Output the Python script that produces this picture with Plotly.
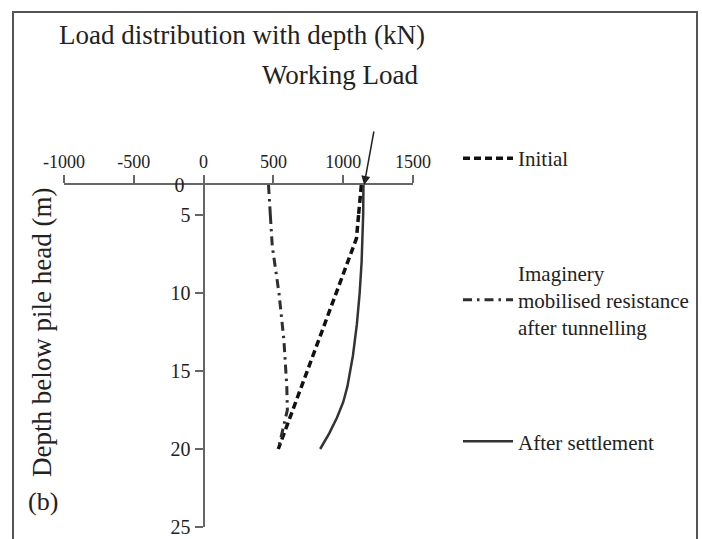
import plotly.graph_objects as go

# ---------------- data ----------------
x_ticks = [-1000, -500, 0, 500, 1000, 1500]
depth_ticks_top = [0]
depth_ticks_bottom = [5, 10, 15, 20, 25]

depth_initial = [0, 3, 5, 6.5, 20]
load_initial = [1130, 1120, 1110, 1095, 535]

depth_imag = [0, 5, 7, 10, 13, 16, 17.5, 20]
load_imag = [465, 478, 492, 540, 575, 596, 600, 535]

depth_after = [0, 5, 8, 10, 12, 14, 16, 17, 18, 19, 20]
load_after = [1145, 1143, 1132, 1118, 1098, 1070, 1030, 1000, 955, 900, 835]

series_names = ["Initial", "Imaginery<br>mobilised resistance<br>after tunnelling", "After settlement"]

W, H = 702, 539
FONT = "Liberation Serif"


def px(x):
    return x / W


def py(y):
    return 1 - y / H


def split(depths, loads, brk=5):
    top = [(d, l) for d, l in zip(depths, loads) if d <= brk]
    bot = [(d, l) for d, l in zip(depths, loads) if d >= brk]
    return top, bot


styles = [
    dict(color="#111111", width=3.5, dash="7px,4px"),
    dict(color="#2e2e2e", width=3, dash="9px,5px,2.5px,5px"),
    dict(color="#333333", width=2.5, dash="solid"),
]
datasets = [(depth_initial, load_initial), (depth_imag, load_imag), (depth_after, load_after)]

fig = go.Figure()
for i, ((d, l), st, name) in enumerate(zip(datasets, styles, series_names)):
    top, bot = split(d, l)
    fig.add_trace(go.Scatter(
        x=[p[1] for p in bot], y=[p[0] for p in bot], xaxis="x", yaxis="y",
        mode="lines", line=st, name=name, legendgroup=f"g{i}", showlegend=True,
    ))
    fig.add_trace(go.Scatter(
        x=[p[1] for p in top], y=[p[0] for p in top], xaxis="x", yaxis="y2",
        mode="lines", line=st, name=name, legendgroup=f"g{i}", showlegend=False,
    ))

axis_color = "#666666"
x0_px, x1_px = 64, 413
yaxis_pos = px(x0_px + (x1_px - x0_px) * (0 - (-1000)) / 2500)

fig.update_layout(
    width=W, height=H,
    margin=dict(l=0, r=0, t=0, b=0, autoexpand=False),
    paper_bgcolor="white", plot_bgcolor="rgba(0,0,0,0)",
    font=dict(family=FONT, color="#222222"),
    xaxis=dict(
        domain=[px(x0_px), px(x1_px)], range=[-1000, 1500], anchor="y2", side="top",
        tickvals=x_ticks, ticktext=[str(v) for v in x_ticks],
        showline=True, linecolor=axis_color, linewidth=2,
        ticks="outside", ticklen=8, tickwidth=2, tickcolor=axis_color,
        showgrid=False, zeroline=False, tickfont=dict(size=18, family=FONT, color="#222"),
    ),
    yaxis=dict(
        domain=[py(527), py(215)], range=[25, 5], anchor="free", position=yaxis_pos,
        tickvals=depth_ticks_bottom, ticktext=[str(v) for v in depth_ticks_bottom],
        showline=True, linecolor=axis_color, linewidth=2,
        ticks="outside", ticklen=8, tickwidth=2, tickcolor=axis_color,
        showgrid=False, zeroline=False, tickfont=dict(size=20, family=FONT, color="#222"),
    ),
    yaxis2=dict(
        domain=[py(215), py(185)], range=[5, 0], anchor="free", position=yaxis_pos,
        tickvals=depth_ticks_top, ticktext=[str(v) for v in depth_ticks_top],
        showline=True, linecolor=axis_color, linewidth=2,
        ticks="", showgrid=False, zeroline=False,
        tickfont=dict(size=20, family=FONT, color="#222"), ticklabelstandoff=14,
    ),
    legend=dict(
        x=px(458), y=py(138), xanchor="left", yanchor="top",
        font=dict(size=21, family=FONT, color="#222"),
        tracegroupgap=84, itemwidth=50, bgcolor="rgba(0,0,0,0)",
    ),
    showlegend=True,
)

fig.add_annotation(text="Load distribution with depth (kN)", x=px(57), y=py(35),
                   xref="paper", yref="paper", xanchor="left", yanchor="middle",
                   showarrow=False, font=dict(size=27, family=FONT, color="#222"))
fig.add_annotation(text="Working Load", x=px(421), y=py(75),
                   xref="paper", yref="paper", xanchor="right", yanchor="middle",
                   showarrow=False, font=dict(size=27, family=FONT, color="#222"))
fig.add_annotation(text="", x=1150, y=0, xref="x", yref="y2",
                   ax=10, ay=-55, showarrow=True, arrowhead=2, arrowsize=1.2,
                   arrowwidth=1.5, arrowcolor="#222")
fig.add_annotation(text="Depth below pile head (m)", x=px(42), y=py(333),
                   xref="paper", yref="paper", xanchor="center", yanchor="middle",
                   textangle=-90, showarrow=False, font=dict(size=27, family=FONT, color="#222"))
fig.add_annotation(text="(b)", x=px(26), y=py(501),
                   xref="paper", yref="paper", xanchor="left", yanchor="middle",
                   showarrow=False, font=dict(size=26, family=FONT, color="#222"))

fig.add_shape(type="rect", xref="paper", yref="paper",
              x0=px(13), x1=px(697), y0=-0.05, y1=py(12),
              line=dict(color="#555555", width=2), fillcolor="rgba(0,0,0,0)", layer="below")

fig.write_html("out.html")
